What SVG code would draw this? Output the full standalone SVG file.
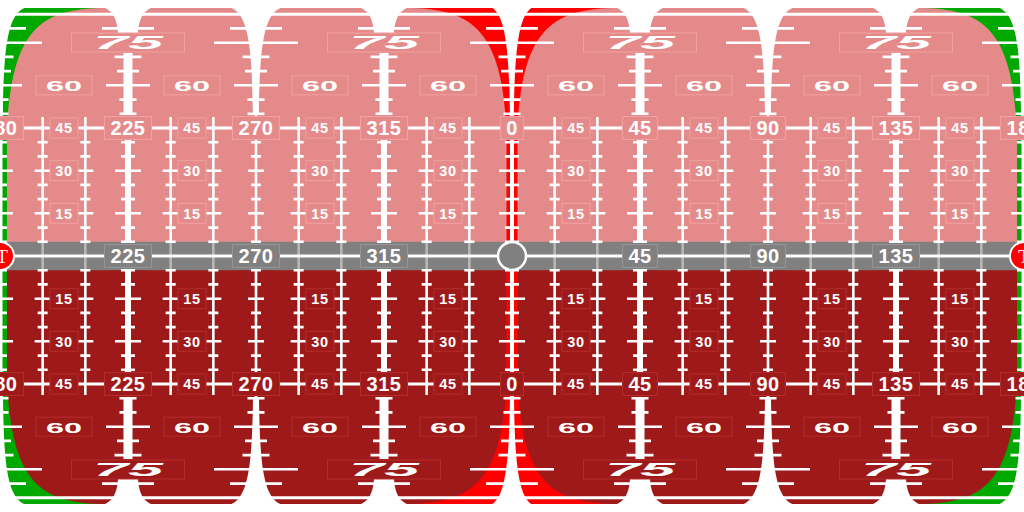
<svg xmlns="http://www.w3.org/2000/svg" width="1024" height="512" viewBox="0 0 1024 512">
<style>
.tk{fill:none;stroke:#fff;stroke-width:2.6}
.bp{fill:#E48A8A;stroke:#F2A0A0;stroke-width:1}
.bd{fill:#9E1A1A;stroke:#B42C2C;stroke-width:1}
.bg{fill:#808080;stroke:#969696;stroke-width:1}
text{fill:#fff;text-anchor:middle;font-family:"Liberation Sans",Arial,sans-serif;font-weight:bold}
.h{font-size:20px;letter-spacing:0.5px}
.s{font-size:14.5px;letter-spacing:0.8px}
.m{font-size:15.5px}
.b{font-size:18px;font-style:italic}
.t{font-family:"Liberation Serif","Times New Roman",serif;font-weight:normal;font-size:19px}
</style>
<defs>
<g id="tv"><path class="tk" d="M0,117V242M-5,241.8h10M-5,227.6h10M-8,213.3h16M-5,199.1h10M-5,184.9h10M-8,170.7h16M-5,156.4h10M-5,142.2h10"/></g>
<path id="ub" class="tk" d="M-26,28.4h52M-42,42.7h84M-13.5,56.9h27M-11,71.1h22M-22,85.3h44M-8.5,99.6h17M-8.5,113.8h17"/>
<path id="ua" class="tk" d="M-26,28.4h52M-13.5,56.9h27M-11,71.1h22M-22,85.3h44M-8.5,99.6h17M-8.5,113.8h17"/>
<path id="mw" class="tk" d="M-7,241.8h14M-7,227.6h14M-13,213.3h26M-7,199.1h14M-7,184.9h14M-13,170.7h26M-7,156.4h14M-7,142.2h14"/>
<g id="sA"><path fill="#fff" d="M-32,6C-16,7 -11,18 -10,33H10C11,18 16,7 32,6Z"/><rect x="-4.5" y="53" width="9" height="61" fill="#fff"/><rect x="-3" y="128" width="6" height="114" fill="#fff"/><use href="#ua"/><use href="#mw"/></g>
<g id="sB"><path fill="#fff" d="M-34,0H34V6H32C8,8 4,40 3,114H-3C-4,40 -8,8 -32,6H-34Z"/><use href="#ub"/><path class="tk" d="M0,112V118"/><use href="#tv"/></g>
<g id="sC"><path fill="#f00" d="M-100,8H100C40,10 10,30 5.5,130V242H-5.5V130C-10,30 -40,10 -100,8Z"/><path fill="#fff" d="M-26,0H26V6H24C8,10 2.5,40 2,120V242H-2V120C-2.5,40 -8,10 -24,6H-26Z"/><use href="#ub"/><use href="#mw"/></g>
<g id="sG"><path fill="#00A800" d="M-100,8H100C40,10 12,30 7,130V242H-7V130C-12,30 -40,10 -100,8Z"/><path fill="#fff" d="M-34,0H34V6H32C8,8 4,40 3,114L2.5,130V242H-2.5V130L-3,114C-4,40 -8,8 -32,6H-34Z"/><use href="#ub"/><use href="#mw"/></g>
</defs>
<rect width="1024" height="512" fill="#fff"/>
<rect x="0" y="8" width="1024" height="248" fill="#E48A8A"/>
<rect x="0" y="256" width="1024" height="248" fill="#9E1A1A"/>
<rect x="0" y="241.8" width="1024" height="28.4" fill="#808080"/>
<g id="upper">
<use href="#sG" x="0"/><use href="#sG" x="1024"/><use href="#sC" x="512"/>
<use href="#sA" x="128"/><use href="#sA" x="384"/><use href="#sA" x="640"/><use href="#sA" x="896"/>
<use href="#sB" x="256"/><use href="#sB" x="768"/>
<use href="#tv" x="42.67"/><use href="#tv" x="85.33"/><use href="#tv" x="170.67"/><use href="#tv" x="213.33"/>
<use href="#tv" x="298.67"/><use href="#tv" x="341.33"/><use href="#tv" x="426.67"/><use href="#tv" x="469.33"/>
<use href="#tv" x="554.67"/><use href="#tv" x="597.33"/><use href="#tv" x="682.67"/><use href="#tv" x="725.33"/>
<use href="#tv" x="810.67"/><use href="#tv" x="853.33"/><use href="#tv" x="938.67"/><use href="#tv" x="981.33"/>
<path class="tk" style="stroke-width:3" d="M0,14.2H1024M0,128H1024"/>
</g>
<use href="#upper" transform="matrix(1 0 0 -1 0 512)"/>
<path stroke="#fff" stroke-opacity="0.45" stroke-width="2.5" d="M42.67,242V270M85.33,242V270M170.67,242V270M213.33,242V270M298.67,242V270M341.33,242V270M426.67,242V270M469.33,242V270M554.67,242V270M597.33,242V270M682.67,242V270M725.33,242V270M810.67,242V270M853.33,242V270M938.67,242V270M981.33,242V270"/>
<path stroke="#fff" stroke-width="3" d="M0,256H1024"/>
<g id="labels-heading-upper">
<rect class="bp" x="-23.5" y="116.5" width="47" height="23"/><rect class="bp" x="104.5" y="116.5" width="47" height="23"/><rect class="bp" x="232.5" y="116.5" width="47" height="23"/><rect class="bp" x="360.5" y="116.5" width="47" height="23"/><rect class="bp" x="500.5" y="116.5" width="23" height="23"/><rect class="bp" x="622.5" y="116.5" width="35" height="23"/><rect class="bp" x="750.5" y="116.5" width="35" height="23"/><rect class="bp" x="872.5" y="116.5" width="47" height="23"/><rect class="bp" x="1000.5" y="116.5" width="47" height="23"/>
<text class="h" x="0" y="135.2">180</text><text class="h" x="128" y="135.2">225</text><text class="h" x="256" y="135.2">270</text><text class="h" x="384" y="135.2">315</text><text class="h" x="512" y="135.2">0</text><text class="h" x="640" y="135.2">45</text><text class="h" x="768" y="135.2">90</text><text class="h" x="896" y="135.2">135</text><text class="h" x="1024" y="135.2">180</text>
</g>
<g id="labels-heading-lower">
<rect class="bd" x="-23.5" y="372.5" width="47" height="23"/><rect class="bd" x="104.5" y="372.5" width="47" height="23"/><rect class="bd" x="232.5" y="372.5" width="47" height="23"/><rect class="bd" x="360.5" y="372.5" width="47" height="23"/><rect class="bd" x="500.5" y="372.5" width="23" height="23"/><rect class="bd" x="622.5" y="372.5" width="35" height="23"/><rect class="bd" x="750.5" y="372.5" width="35" height="23"/><rect class="bd" x="872.5" y="372.5" width="47" height="23"/><rect class="bd" x="1000.5" y="372.5" width="47" height="23"/>
<text class="h" x="0" y="391.2">180</text><text class="h" x="128" y="391.2">225</text><text class="h" x="256" y="391.2">270</text><text class="h" x="384" y="391.2">315</text><text class="h" x="512" y="391.2">0</text><text class="h" x="640" y="391.2">45</text><text class="h" x="768" y="391.2">90</text><text class="h" x="896" y="391.2">135</text><text class="h" x="1024" y="391.2">180</text>
</g>
<g id="labels-horizon">
<rect class="bg" x="104.5" y="244.5" width="47" height="23"/><rect class="bg" x="232.5" y="244.5" width="47" height="23"/><rect class="bg" x="360.5" y="244.5" width="47" height="23"/><rect class="bg" x="622.5" y="244.5" width="35" height="23"/><rect class="bg" x="750.5" y="244.5" width="35" height="23"/><rect class="bg" x="872.5" y="244.5" width="47" height="23"/>
<text class="h" x="128" y="263.2">225</text><text class="h" x="256" y="263.2">270</text><text class="h" x="384" y="263.2">315</text><text class="h" x="640" y="263.2">45</text><text class="h" x="768" y="263.2">90</text><text class="h" x="896" y="263.2">135</text>
</g>
<g id="labels-pitch-upper">
<rect class="bp" x="50" y="118" width="28" height="20"/><rect class="bp" x="178" y="118" width="28" height="20"/><rect class="bp" x="306" y="118" width="28" height="20"/><rect class="bp" x="434" y="118" width="28" height="20"/><rect class="bp" x="562" y="118" width="28" height="20"/><rect class="bp" x="690" y="118" width="28" height="20"/><rect class="bp" x="818" y="118" width="28" height="20"/><rect class="bp" x="946" y="118" width="28" height="20"/>
<rect class="bp" x="50" y="160.7" width="28" height="20"/><rect class="bp" x="178" y="160.7" width="28" height="20"/><rect class="bp" x="306" y="160.7" width="28" height="20"/><rect class="bp" x="434" y="160.7" width="28" height="20"/><rect class="bp" x="562" y="160.7" width="28" height="20"/><rect class="bp" x="690" y="160.7" width="28" height="20"/><rect class="bp" x="818" y="160.7" width="28" height="20"/><rect class="bp" x="946" y="160.7" width="28" height="20"/>
<rect class="bp" x="50" y="203.3" width="28" height="20"/><rect class="bp" x="178" y="203.3" width="28" height="20"/><rect class="bp" x="306" y="203.3" width="28" height="20"/><rect class="bp" x="434" y="203.3" width="28" height="20"/><rect class="bp" x="562" y="203.3" width="28" height="20"/><rect class="bp" x="690" y="203.3" width="28" height="20"/><rect class="bp" x="818" y="203.3" width="28" height="20"/><rect class="bp" x="946" y="203.3" width="28" height="20"/>
<text class="s" x="64" y="133.2">45</text><text class="s" x="192" y="133.2">45</text><text class="s" x="320" y="133.2">45</text><text class="s" x="448" y="133.2">45</text><text class="s" x="576" y="133.2">45</text><text class="s" x="704" y="133.2">45</text><text class="s" x="832" y="133.2">45</text><text class="s" x="960" y="133.2">45</text>
<text class="s" x="64" y="175.9">30</text><text class="s" x="192" y="175.9">30</text><text class="s" x="320" y="175.9">30</text><text class="s" x="448" y="175.9">30</text><text class="s" x="576" y="175.9">30</text><text class="s" x="704" y="175.9">30</text><text class="s" x="832" y="175.9">30</text><text class="s" x="960" y="175.9">30</text>
<text class="s" x="64" y="218.5">15</text><text class="s" x="192" y="218.5">15</text><text class="s" x="320" y="218.5">15</text><text class="s" x="448" y="218.5">15</text><text class="s" x="576" y="218.5">15</text><text class="s" x="704" y="218.5">15</text><text class="s" x="832" y="218.5">15</text><text class="s" x="960" y="218.5">15</text>
</g>
<g id="labels-pitch-lower">
<rect class="bd" x="50" y="288.7" width="28" height="20"/><rect class="bd" x="178" y="288.7" width="28" height="20"/><rect class="bd" x="306" y="288.7" width="28" height="20"/><rect class="bd" x="434" y="288.7" width="28" height="20"/><rect class="bd" x="562" y="288.7" width="28" height="20"/><rect class="bd" x="690" y="288.7" width="28" height="20"/><rect class="bd" x="818" y="288.7" width="28" height="20"/><rect class="bd" x="946" y="288.7" width="28" height="20"/>
<rect class="bd" x="50" y="331.3" width="28" height="20"/><rect class="bd" x="178" y="331.3" width="28" height="20"/><rect class="bd" x="306" y="331.3" width="28" height="20"/><rect class="bd" x="434" y="331.3" width="28" height="20"/><rect class="bd" x="562" y="331.3" width="28" height="20"/><rect class="bd" x="690" y="331.3" width="28" height="20"/><rect class="bd" x="818" y="331.3" width="28" height="20"/><rect class="bd" x="946" y="331.3" width="28" height="20"/>
<rect class="bd" x="50" y="374" width="28" height="20"/><rect class="bd" x="178" y="374" width="28" height="20"/><rect class="bd" x="306" y="374" width="28" height="20"/><rect class="bd" x="434" y="374" width="28" height="20"/><rect class="bd" x="562" y="374" width="28" height="20"/><rect class="bd" x="690" y="374" width="28" height="20"/><rect class="bd" x="818" y="374" width="28" height="20"/><rect class="bd" x="946" y="374" width="28" height="20"/>
<text class="s" x="64" y="304.2">15</text><text class="s" x="192" y="304.2">15</text><text class="s" x="320" y="304.2">15</text><text class="s" x="448" y="304.2">15</text><text class="s" x="576" y="304.2">15</text><text class="s" x="704" y="304.2">15</text><text class="s" x="832" y="304.2">15</text><text class="s" x="960" y="304.2">15</text>
<text class="s" x="64" y="346.5">30</text><text class="s" x="192" y="346.5">30</text><text class="s" x="320" y="346.5">30</text><text class="s" x="448" y="346.5">30</text><text class="s" x="576" y="346.5">30</text><text class="s" x="704" y="346.5">30</text><text class="s" x="832" y="346.5">30</text><text class="s" x="960" y="346.5">30</text>
<text class="s" x="64" y="389.2">45</text><text class="s" x="192" y="389.2">45</text><text class="s" x="320" y="389.2">45</text><text class="s" x="448" y="389.2">45</text><text class="s" x="576" y="389.2">45</text><text class="s" x="704" y="389.2">45</text><text class="s" x="832" y="389.2">45</text><text class="s" x="960" y="389.2">45</text>
</g>
<g id="labels-60">
<rect class="bp" x="36" y="75.8" width="56" height="19"/><rect class="bp" x="164" y="75.8" width="56" height="19"/><rect class="bp" x="292" y="75.8" width="56" height="19"/><rect class="bp" x="420" y="75.8" width="56" height="19"/><rect class="bp" x="548" y="75.8" width="56" height="19"/><rect class="bp" x="676" y="75.8" width="56" height="19"/><rect class="bp" x="804" y="75.8" width="56" height="19"/><rect class="bp" x="932" y="75.8" width="56" height="19"/>
<rect class="bd" x="36" y="417.2" width="56" height="19"/><rect class="bd" x="164" y="417.2" width="56" height="19"/><rect class="bd" x="292" y="417.2" width="56" height="19"/><rect class="bd" x="420" y="417.2" width="56" height="19"/><rect class="bd" x="548" y="417.2" width="56" height="19"/><rect class="bd" x="676" y="417.2" width="56" height="19"/><rect class="bd" x="804" y="417.2" width="56" height="19"/><rect class="bd" x="932" y="417.2" width="56" height="19"/>
<text class="m" x="64" y="90.9" textLength="36" lengthAdjust="spacingAndGlyphs">60</text><text class="m" x="192" y="90.9" textLength="36" lengthAdjust="spacingAndGlyphs">60</text><text class="m" x="320" y="90.9" textLength="36" lengthAdjust="spacingAndGlyphs">60</text><text class="m" x="448" y="90.9" textLength="36" lengthAdjust="spacingAndGlyphs">60</text><text class="m" x="576" y="90.9" textLength="36" lengthAdjust="spacingAndGlyphs">60</text><text class="m" x="704" y="90.9" textLength="36" lengthAdjust="spacingAndGlyphs">60</text><text class="m" x="832" y="90.9" textLength="36" lengthAdjust="spacingAndGlyphs">60</text><text class="m" x="960" y="90.9" textLength="36" lengthAdjust="spacingAndGlyphs">60</text>
<text class="m" x="64" y="432.9" textLength="36" lengthAdjust="spacingAndGlyphs">60</text><text class="m" x="192" y="432.9" textLength="36" lengthAdjust="spacingAndGlyphs">60</text><text class="m" x="320" y="432.9" textLength="36" lengthAdjust="spacingAndGlyphs">60</text><text class="m" x="448" y="432.9" textLength="36" lengthAdjust="spacingAndGlyphs">60</text><text class="m" x="576" y="432.9" textLength="36" lengthAdjust="spacingAndGlyphs">60</text><text class="m" x="704" y="432.9" textLength="36" lengthAdjust="spacingAndGlyphs">60</text><text class="m" x="832" y="432.9" textLength="36" lengthAdjust="spacingAndGlyphs">60</text><text class="m" x="960" y="432.9" textLength="36" lengthAdjust="spacingAndGlyphs">60</text>
</g>
<g id="labels-75">
<rect class="bp" x="71.5" y="33" width="113" height="19"/><rect class="bp" x="327.5" y="33" width="113" height="19"/><rect class="bp" x="583.5" y="33" width="113" height="19"/><rect class="bp" x="839.5" y="33" width="113" height="19"/>
<rect class="bd" x="71.5" y="460" width="113" height="19"/><rect class="bd" x="327.5" y="460" width="113" height="19"/><rect class="bd" x="583.5" y="460" width="113" height="19"/><rect class="bd" x="839.5" y="460" width="113" height="19"/>
<text class="b" x="128" y="49.3" textLength="70" lengthAdjust="spacingAndGlyphs">75</text><text class="b" x="384" y="49.3" textLength="70" lengthAdjust="spacingAndGlyphs">75</text><text class="b" x="640" y="49.3" textLength="70" lengthAdjust="spacingAndGlyphs">75</text><text class="b" x="896" y="49.3" textLength="70" lengthAdjust="spacingAndGlyphs">75</text>
<text class="b" x="128" y="475.9" textLength="70" lengthAdjust="spacingAndGlyphs">75</text><text class="b" x="384" y="475.9" textLength="70" lengthAdjust="spacingAndGlyphs">75</text><text class="b" x="640" y="475.9" textLength="70" lengthAdjust="spacingAndGlyphs">75</text><text class="b" x="896" y="475.9" textLength="70" lengthAdjust="spacingAndGlyphs">75</text>
</g>
<g id="markers">
<circle cx="512" cy="256" r="14" fill="#808080" stroke="#fff" stroke-width="2.5"/>
<circle cx="0" cy="256" r="14" fill="#f00" stroke="#fff" stroke-width="2"/>
<circle cx="1024" cy="256" r="14" fill="#f00" stroke="#fff" stroke-width="2"/>
<text class="t" x="2" y="262.5">T</text>
<text class="t" x="1024" y="262.5">T</text>
</g>
</svg>
